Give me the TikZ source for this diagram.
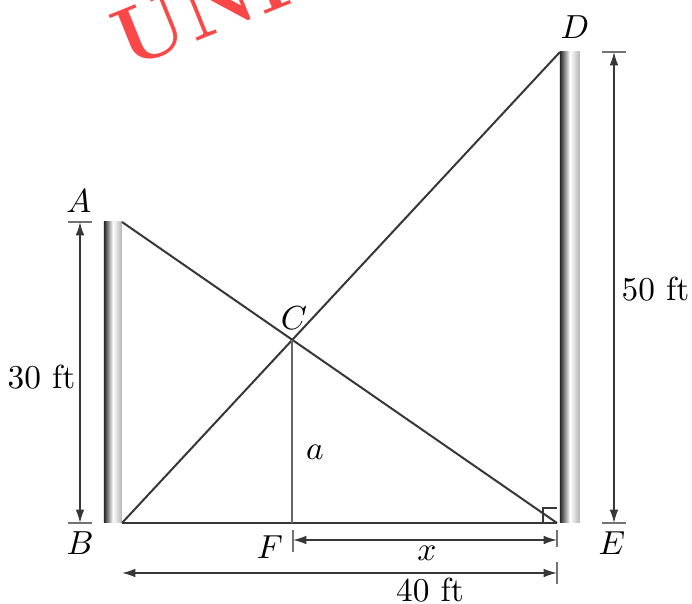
\documentclass[tikz,border=0pt]{standalone}
\usetikzlibrary{arrows.meta}
\definecolor{wmred}{RGB}{250,72,72}
\definecolor{linegray}{RGB}{55,55,55}

\begin{document}
\begin{tikzpicture}[x=0.3pt, y=-0.3pt,
      seg/.style={line width=0.6pt, color=linegray},
      dim/.style={{Latex[length=4pt,width=2.6pt]}-{Latex[length=4pt,width=2.6pt]}, line width=0.45pt, color=linegray},
      tick/.style={line width=0.4pt, color=black!55},
      pole/.style={left color=black!85, right color=black!30, middle color=white},
      lbl/.style={inner sep=0pt, font=\normalsize}
    ]
      \useasboundingbox (0,0) rectangle (692,604);
      \clip (0,0) rectangle (692,604);

      % watermark
      \node[rotate=22, anchor=base west, inner sep=0pt, text=wmred,
            font=\fontsize{25}{30}\selectfont\bfseries] (wm) at (127,70) {UNR};

      % poles
      \fill[pole] (104,222) rectangle (122,523);
      \fill[pole] (560,52) rectangle (580,523);

      \coordinate (A) at (122,222);
      \coordinate (B) at (122,523);
      \coordinate (E) at (557,523);
      \coordinate (D) at (560,52);
      \coordinate (C) at (intersection of A--E and B--D);
      \coordinate (F) at (C |- B);

      \draw[seg] (A) -- (E);
      \draw[seg] (B) -- (D);
      \draw[seg] (B) -- (E);
      \draw[seg, color=black!60] (C) -- (F);
      \draw[seg, line width=0.4pt] (E) ++(-14,0) |- ++(14,-15);

      % dimensions
      \coordinate (lt) at (80,222);
      \coordinate (lb) at (80,523);
      \coordinate (rt) at (614,52);
      \coordinate (rb) at (614,523);
      \coordinate (xl) at (293,540);
      \coordinate (xr) at (557,540);
      \coordinate (fl) at (122,573);
      \coordinate (fr) at (557,573);

      \draw[tick] (68,222) -- (92,222);
      \draw[tick] (68,523) -- (92,523);
      \draw[tick] (602,52) -- (626,52);
      \draw[tick] (602,523) -- (626,523);
      \draw[tick] (293,530) -- (293,552);
      \draw[tick] (557,530) -- (557,547);
      \draw[tick] (557,562) -- (557,584);

      \draw[dim] (lt) -- (lb);
      \draw[dim] (rt) -- (rb);
      \draw[dim] (xl) -- (xr);
      \draw[dim] (fl) -- (fr);

      % labels
      \node[lbl] (la) at (79,201) {$A$};
      \node[lbl] (lbB) at (80,543) {$B$};
      \node[lbl] (lc) at (294,318) {$C$};
      \node[lbl] (ld) at (575,27) {$D$};
      \node[lbl] (le) at (612,543) {$E$};
      \node[lbl] (lf) at (270,547) {$F$};
      \node[lbl] (lA) at (315,452) {$a$};
      \node[lbl] (lx) at (427,553) {$x$};
      \node[lbl, anchor=east] (h30) at (76,377) {30 ft};
      \node[lbl, anchor=west] (h50) at (621,289) {50 ft};
      \node[lbl] (w40) at (430,590) {40 ft};
    \end{tikzpicture}
\end{document}
